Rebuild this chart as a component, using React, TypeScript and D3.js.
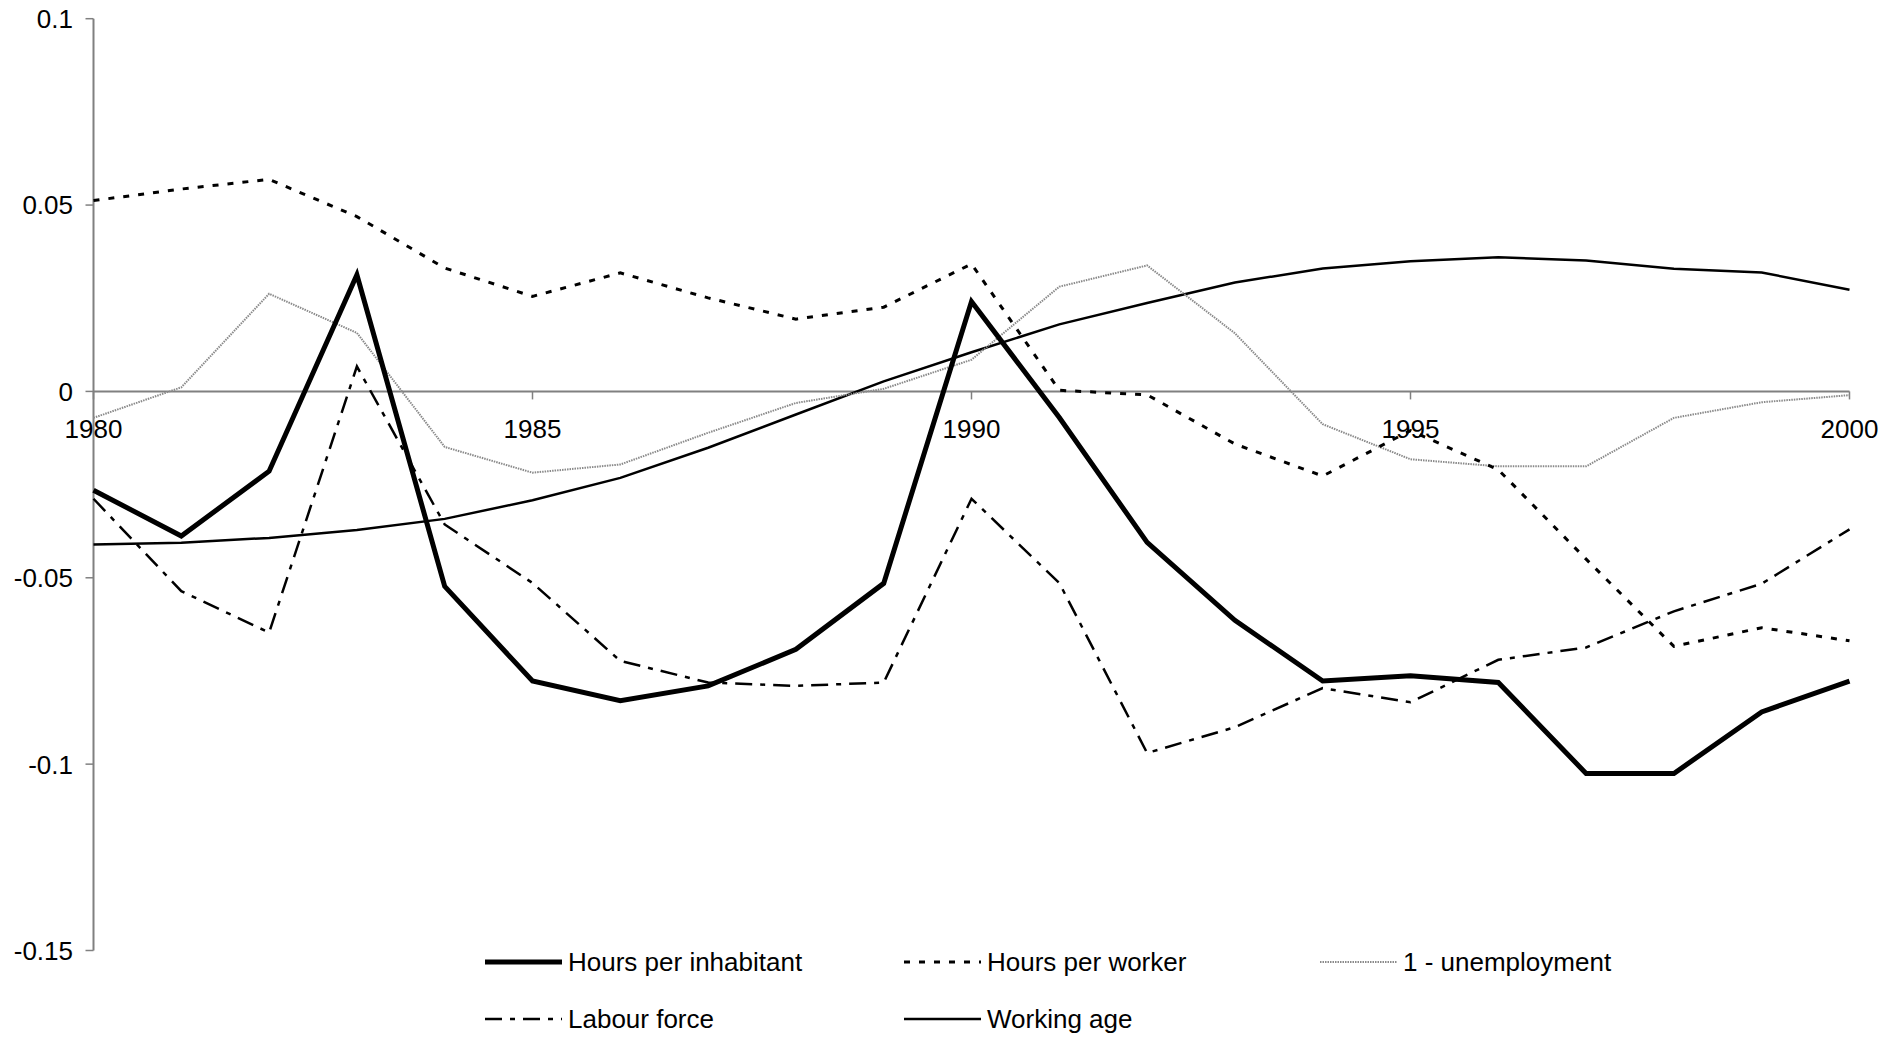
import { useEffect, useRef } from "react"
import * as d3 from "d3"

const years = d3.range(1980, 2001)

const hoursPerInhabitant = [-0.0265, -0.0388, -0.0214, 0.0313, -0.0523, -0.0777, -0.083, -0.079, -0.0692, -0.0515, 0.0241, -0.007, -0.0405, -0.0614, -0.0777, -0.0763, -0.0781, -0.1025, -0.1025, -0.086, -0.0777]
const hoursPerWorker = [0.0512, 0.0543, 0.0569, 0.0469, 0.0331, 0.0255, 0.0318, 0.0251, 0.0194, 0.0226, 0.0342, 0.0003, -0.0009, -0.0141, -0.0227, -0.0105, -0.021, -0.045, -0.0684, -0.0634, -0.0669]
const oneMinusUnemployment = [-0.0071, 0.0011, 0.0262, 0.0157, -0.0149, -0.0218, -0.0196, -0.0111, -0.0031, 0.0007, 0.0085, 0.0281, 0.0338, 0.0156, -0.0088, -0.0182, -0.0201, -0.0201, -0.0071, -0.0029, -0.001]
const labourForce = [-0.0288, -0.0536, -0.0647, 0.0067, -0.0357, -0.0514, -0.0723, -0.0781, -0.079, -0.0781, -0.0288, -0.0514, -0.097, -0.0901, -0.0796, -0.0834, -0.072, -0.0687, -0.059, -0.0516, -0.037]
const workingAge = [-0.0411, -0.0406, -0.0393, -0.0372, -0.0342, -0.0292, -0.0232, -0.0151, -0.0062, 0.0027, 0.0105, 0.018, 0.0237, 0.0292, 0.033, 0.0349, 0.036, 0.0351, 0.0329, 0.0319, 0.0273]

const yTicks = [0.1, 0.05, 0, -0.05, -0.1, -0.15]
const xTicks = [1980, 1985, 1990, 1995, 2000]

interface Series {
  name: string
  values: number[]
  color: string
  width: number
  dash: string | null
}

const series: Series[] = [
  { name: "Working age", values: workingAge, color: "#000", width: 2.5, dash: null },
  { name: "1 - unemployment", values: oneMinusUnemployment, color: "#8a8a8a", width: 2, dash: "1.5,1" },
  { name: "Labour force", values: labourForce, color: "#000", width: 2.5, dash: "17,8,5,8" },
  { name: "Hours per worker", values: hoursPerWorker, color: "#000", width: 3, dash: "6,9" },
  { name: "Hours per inhabitant", values: hoursPerInhabitant, color: "#000", width: 5, dash: null },
]

// legend layout order (rows of three)
const legendOrder = ["Hours per inhabitant", "Hours per worker", "1 - unemployment", "Labour force", "Working age"]

const FONT = "'Liberation Sans', Arial, Helvetica, sans-serif"

export default function App() {
  const svgRef = useRef<SVGSVGElement>(null)

  useEffect(() => {
    document.body.style.margin = "0"
    document.body.style.overflow = "hidden"
    if (!svgRef.current) return
    const svg = d3.select(svgRef.current)
    svg.selectAll("*").remove()

    const x = d3.scaleLinear().domain([1980, 2000]).range([93.5, 1849.5])
    const y = d3.scaleLinear().domain([-0.15, 0.1]).range([950.5, 18.7])

    const axisColor = "#808080"

    // y axis
    svg.append("line").attr("x1", x(1980)).attr("x2", x(1980)).attr("y1", y(0.1)).attr("y2", y(-0.15)).attr("stroke", axisColor).attr("stroke-width", 2)
    svg.selectAll("line.ytick")
      .data(yTicks)
      .enter()
      .append("line")
      .attr("class", "ytick")
      .attr("x1", x(1980) - 8)
      .attr("x2", x(1980))
      .attr("y1", (d) => y(d))
      .attr("y2", (d) => y(d))
      .attr("stroke", axisColor)
      .attr("stroke-width", 1.5)
    svg.selectAll("text.ylab")
      .data(yTicks)
      .enter()
      .append("text")
      .attr("class", "ylab")
      .attr("x", 73)
      .attr("y", (d) => y(d))
      .attr("dy", "0.36em")
      .attr("text-anchor", "end")
      .style("font-family", FONT)
      .style("font-size", "26px")
      .attr("fill", "#000")
      .text((d) => String(d))

    // x axis at zero
    svg.append("line").attr("x1", x(1980)).attr("x2", x(2000)).attr("y1", y(0)).attr("y2", y(0)).attr("stroke", axisColor).attr("stroke-width", 2)
    svg.selectAll("line.xtick")
      .data(xTicks)
      .enter()
      .append("line")
      .attr("class", "xtick")
      .attr("x1", (d) => x(d))
      .attr("x2", (d) => x(d))
      .attr("y1", y(0))
      .attr("y2", y(0) + 8)
      .attr("stroke", axisColor)
      .attr("stroke-width", 1.5)

    // lines
    const line = d3
      .line<number>()
      .x((_, i) => x(years[i]))
      .y((d) => y(d))

    series.forEach((s) => {
      const p = svg.append("path").datum(s.values).attr("fill", "none").attr("stroke", s.color).attr("stroke-width", s.width).attr("stroke-linejoin", "miter").attr("d", line)
      if (s.dash) p.attr("stroke-dasharray", s.dash)
    })

    // x labels drawn on top of lines
    svg.selectAll("text.xlab")
      .data(xTicks)
      .enter()
      .append("text")
      .attr("class", "xlab")
      .attr("x", (d) => x(d))
      .attr("y", 438)
      .attr("text-anchor", "middle")
      .style("font-family", FONT)
      .style("font-size", "26px")
      .attr("fill", "#000")
      .text((d) => String(d))

    // legend
    const colX = [485, 904, 1320]
    const rowY = [962, 1019]
    const lg = svg.append("g")
    legendOrder.forEach((name, i) => {
      const s = series.find((d) => d.name === name)!
      const cx = colX[i % 3]
      const cy = rowY[Math.floor(i / 3)]
      const l = lg.append("line").attr("x1", cx).attr("x2", cx + 77).attr("y1", cy).attr("y2", cy).attr("stroke", s.color).attr("stroke-width", s.width)
      if (s.dash) l.attr("stroke-dasharray", s.dash)
      lg.append("text")
        .attr("x", cx + 83)
        .attr("y", cy)
        .attr("dy", "0.36em")
        .style("font-family", FONT)
        .style("font-size", "26px")
        .attr("fill", "#000")
        .text(name)
    })
  }, [])

  return <svg ref={svgRef} width={1902} height={1037} style={{ display: "block", background: "#fff" }} />
}
